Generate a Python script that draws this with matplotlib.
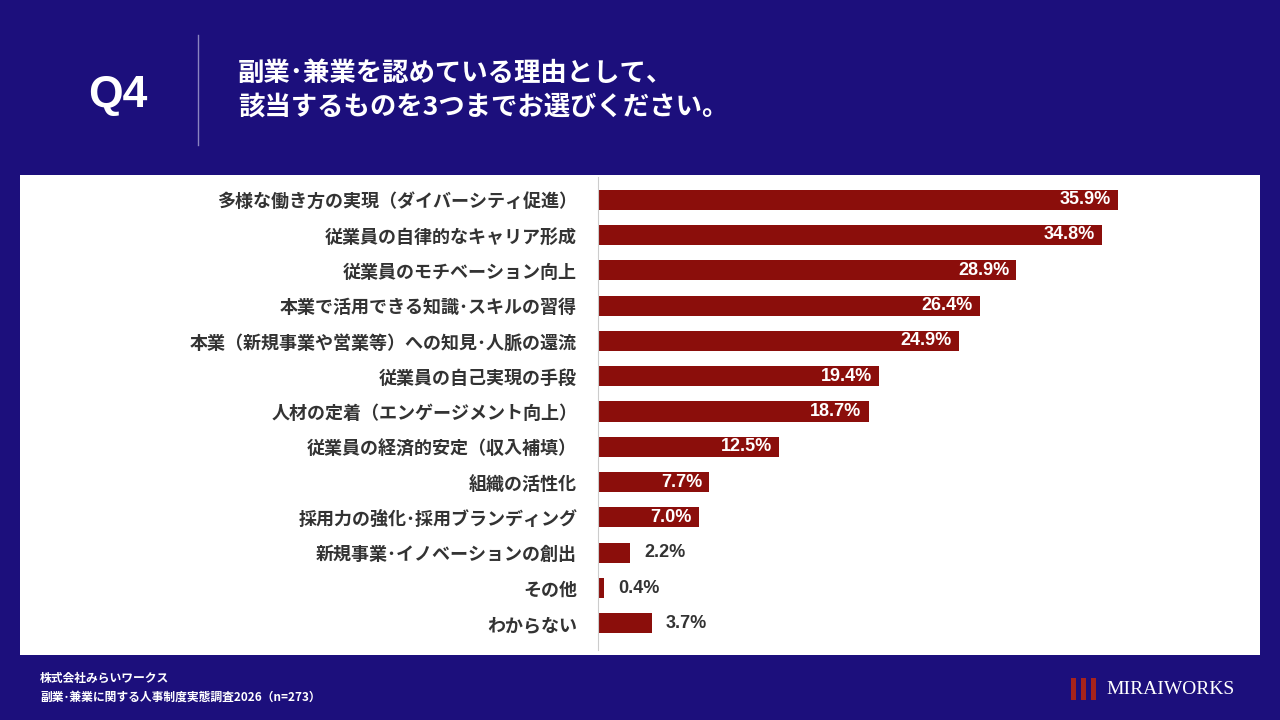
import matplotlib
matplotlib.use("Agg")
import matplotlib.pyplot as plt
from matplotlib.patches import Rectangle

plt.rcParams['font.family'] = ['Noto Sans CJK JP', 'DejaVu Sans']

categories = ["多様な働き方の実現（ダイバーシティ促進）", "従業員の自律的なキャリア形成", "従業員のモチベーション向上",
              "本業で活用できる知識･スキルの習得", "本業（新規事業や営業等）への知見･人脈の還流", "従業員の自己実現の手段",
              "人材の定着（エンゲージメント向上）", "従業員の経済的安定（収入補填）", "組織の活性化",
              "採用力の強化･採用ブランディング", "新規事業･イノベーションの創出", "その他", "わからない"]
values = [35.9, 34.8, 28.9, 26.4, 24.9, 19.4, 18.7, 12.5, 7.7, 7.0, 2.2, 0.4, 3.7]

NAVY = "#1c0f7c"
BAR = "#8b0e0b"
fig = plt.figure(figsize=(12.8, 7.2), dpi=100)
fig.patch.set_facecolor(NAVY)

W, H = 1280, 720
def fx(x): return x / W
def fy(y): return 1 - y / H

fig.patches.append(Rectangle((fx(20), fy(655)), fx(1240), 480 / H, transform=fig.transFigure,
                             facecolor="white", edgecolor="none", zorder=-5))
fig.text(fx(118), fy(95), "Q4", color="white", fontsize=32, fontweight="bold", ha="center", va="center",
         family=["Liberation Sans", "DejaVu Sans"])
fig.add_artist(plt.Line2D([fx(198), fx(198)], [fy(35), fy(145)], color="#8a84c0", lw=1, transform=fig.transFigure))
fig.text(fx(238), fy(73), "副業･兼業を認めている理由として、", color="white", fontsize=19, fontweight="bold", va="center")
fig.text(fx(238), fy(107), "該当するものを3つまでお選びください。", color="white", fontsize=19, fontweight="bold", va="center")
fig.text(fx(40), fy(678), "株式会社みらいワークス", color="white", fontsize=8.5, fontweight="bold", va="center")
fig.text(fx(40), fy(697), "副業･兼業に関する人事制度実態調査2026（n=273）", color="white", fontsize=8.5, fontweight="bold", va="center")
for i in range(3):
    fig.patches.append(Rectangle((fx(1071 + i * 10), fy(700)), fx(5), 22 / H, transform=fig.transFigure,
                                 facecolor="#a8231c", edgecolor="none"))
fig.text(fx(1106), fy(690), "MIRAIWORKS", color="white", fontsize=14, va="center",
         family=["Liberation Serif", "DejaVu Serif"])

ax = fig.add_axes([fx(598), fy(641), fx(662), (641 - 182) / H])
ax.set_zorder(2)
ax.set_facecolor("none")
y = list(range(len(categories)))
ax.barh(y, values, height=0.57, color=BAR)
ax.set_xlim(0, 662 / 14.48)
ax.set_ylim(len(categories) - 0.5, -0.5)
for s in ax.spines.values():
    s.set_visible(False)
ax.axvline(0, color="#cccccc", lw=0.8, ymin=-0.02, ymax=1.01, clip_on=False)
ax.set_xticks([])
ax.set_yticks(y)
ax.set_yticklabels(categories, fontsize=13, fontweight="bold", color="#333333")
ax.tick_params(axis="y", length=0, pad=15)
for yi, v in zip(y, values):
    if v >= 5:
        ax.text(v - 0.5, yi, f"{v:.1f}%", color="white", fontsize=13, fontweight="bold", ha="right", va="center",
                family=["Liberation Sans", "DejaVu Sans"])
    else:
        ax.text(v + 1.0, yi, f"{v:.1f}%", color="#333333", fontsize=13, fontweight="bold", ha="left", va="center",
                family=["Liberation Sans", "DejaVu Sans"])
fig.savefig("out.png", dpi=100, facecolor=fig.get_facecolor())
